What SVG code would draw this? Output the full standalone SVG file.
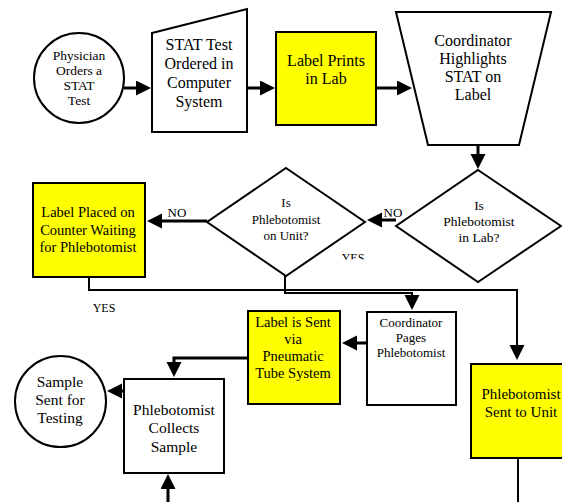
<svg xmlns="http://www.w3.org/2000/svg" width="562" height="502" viewBox="0 0 562 502">
<style>
.s{fill:#fff;stroke:#000;stroke-width:2}
.y{fill:#ffff00;stroke:#000;stroke-width:2}
text{font-family:'Liberation Serif',serif;fill:#000;text-anchor:middle}
.c{fill:none;stroke:#000;stroke-width:3}
.c2{fill:none;stroke:#000;stroke-width:2}
</style>
<defs>
<marker id="ah" markerUnits="userSpaceOnUse" markerWidth="18" markerHeight="16" refX="1" refY="7.5" orient="auto" viewBox="0 0 18 16">
<path d="M0,0 L15,7.5 L0,15 z" fill="#000"/>
</marker>
<clipPath id="yclip"><rect x="330" y="240" width="50" height="19.5"/></clipPath>
</defs>

<g id="physician">
<circle class="s" cx="79" cy="78" r="45"/>
<text font-size="13.5"><tspan x="79" y="60">Physician</tspan><tspan x="79" y="75">Orders a</tspan><tspan x="79" y="90">STAT</tspan><tspan x="79" y="105">Test</tspan></text>
</g>

<g id="stat-test">
<polygon class="s" points="152,33 247,9 247,132 152,132"/>
<text font-size="16"><tspan x="199" y="50">STAT Test</tspan><tspan x="199" y="69">Ordered in</tspan><tspan x="199" y="88">Computer</tspan><tspan x="199" y="107">System</tspan></text>
</g>

<g id="label-prints">
<rect class="y" x="276" y="32" width="100" height="93"/>
<text font-size="16"><tspan x="326" y="66">Label Prints</tspan><tspan x="326" y="84">in Lab</tspan></text>
</g>

<g id="coordinator-highlights">
<polygon class="s" points="396,12 551,12 519,145 428,145"/>
<text font-size="16"><tspan x="473" y="46">Coordinator</tspan><tspan x="473" y="64">Highlights</tspan><tspan x="473" y="82">STAT on</tspan><tspan x="473" y="100">Label</tspan></text>
</g>

<g id="in-lab">
<polygon class="s" points="478,170 561,226 478,282 396,226"/>
<text font-size="13.5"><tspan x="479" y="210">Is</tspan><tspan x="479" y="226">Phlebotomist</tspan><tspan x="479" y="242">in Lab?</tspan></text>
</g>

<g id="on-unit">
<polygon class="s" points="286,168 365,222 286,276 207,222"/>
<text font-size="13"><tspan x="286" y="207">Is</tspan><tspan x="286" y="224">Phlebotomist</tspan><tspan x="286" y="240">on Unit?</tspan></text>
</g>

<g id="label-placed">
<rect class="y" x="33" y="183" width="112" height="94"/>
<text font-size="14.5"><tspan x="88" y="217">Label Placed on</tspan><tspan x="88" y="234.5">Counter Waiting</tspan><tspan x="88" y="252">for Phlebotomist</tspan></text>
</g>

<g id="coordinator-pages">
<rect class="s" x="367" y="312" width="89" height="93"/>
<text font-size="13"><tspan x="411" y="327">Coordinator</tspan><tspan x="411" y="342">Pages</tspan><tspan x="411" y="357">Phlebotomist</tspan></text>
</g>

<g id="label-sent">
<rect class="y" x="248" y="311" width="92" height="93"/>
<text font-size="14.5"><tspan x="293" y="327">Label is Sent</tspan><tspan x="293" y="344">via</tspan><tspan x="293" y="361">Pneumatic</tspan><tspan x="293" y="378">Tube System</tspan></text>
</g>

<g id="phlebotomist-sent">
<rect class="y" x="471" y="364" width="100" height="94"/>
<text font-size="15"><tspan x="521" y="399">Phlebotomist</tspan><tspan x="521" y="417">Sent to Unit</tspan></text>
</g>

<g id="collects">
<rect class="s" x="124" y="379" width="100" height="94"/>
<text font-size="15.5"><tspan x="174" y="415">Phlebotomist</tspan><tspan x="174" y="433">Collects</tspan><tspan x="174" y="452">Sample</tspan></text>
</g>

<g id="sample-sent">
<circle class="s" cx="60.5" cy="401.5" r="45.5"/>
<text font-size="15.5"><tspan x="60" y="387">Sample</tspan><tspan x="60" y="405">Sent for</tspan><tspan x="60" y="423">Testing</tspan></text>
</g>

<g id="connectors">
<path class="c" d="M124,88 H137" marker-end="url(#ah)"/>
<path class="c" d="M247,88 H261" marker-end="url(#ah)"/>
<path class="c" d="M376,88 H398" marker-end="url(#ah)"/>
<path class="c" d="M478,145 V155" marker-end="url(#ah)"/>
<path class="c" d="M396,220 H381" marker-end="url(#ah)"/>
<path class="c" d="M207,221 H161" marker-end="url(#ah)"/>
<path class="c2" d="M89,277 V290 H517 V346" marker-end="url(#ah)"/>
<path class="c2" d="M285,276 V293 H412 V296" marker-end="url(#ah)"/>
<path class="c" d="M367,343 H356" marker-end="url(#ah)"/>
<path class="c" d="M248,358 H174 V363" marker-end="url(#ah)"/>
<path class="c" d="M124,391 H121" marker-end="url(#ah)"/>
<path class="c" d="M168,502 V488" marker-end="url(#ah)"/>
<path class="c2" d="M518,458 V502"/>
<text font-size="13" x="177" y="217">NO</text>
<text font-size="13" x="393" y="217">NO</text>
<text font-size="12" x="353" y="262" clip-path="url(#yclip)">YES</text>
<text font-size="12" x="104" y="312">YES</text>
</g>
</svg>
